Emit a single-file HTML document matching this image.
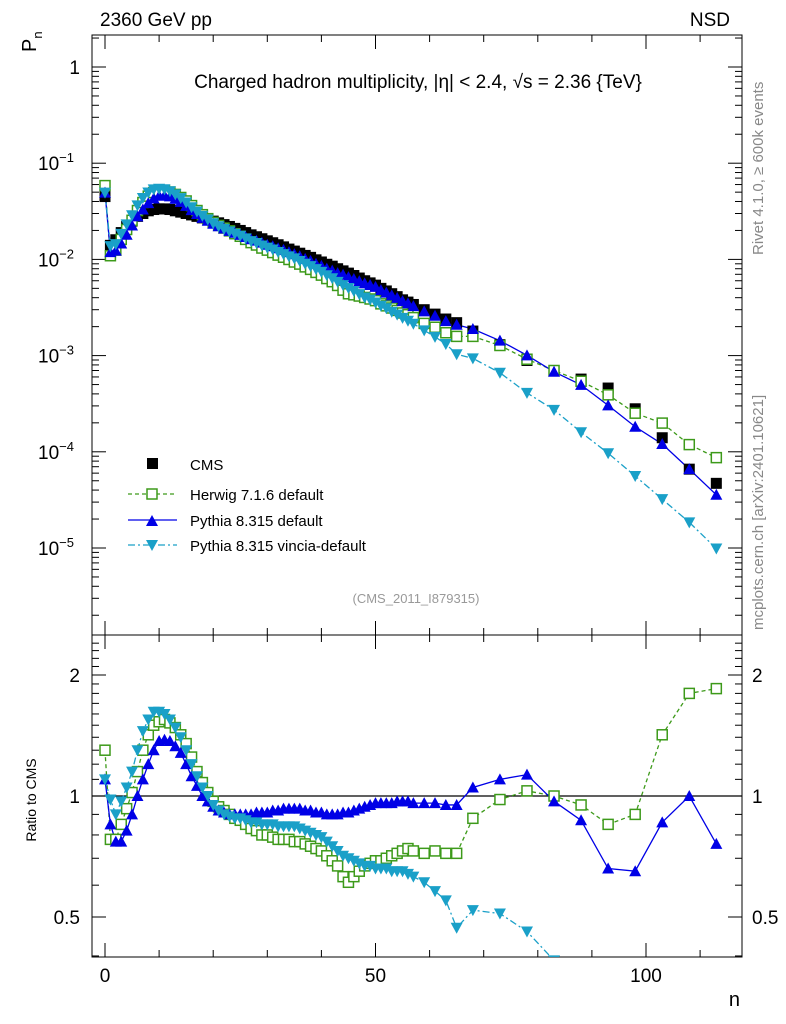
<!DOCTYPE html>
<html><head><meta charset="utf-8"><style>
html,body{margin:0;padding:0;background:#fff;overflow:hidden;width:786px;height:1024px}
svg{display:block;font-family:"Liberation Sans",sans-serif}
</style></head><body>
<svg id="c" width="786" height="1024" viewBox="0 0 786 1024" xmlns="http://www.w3.org/2000/svg">
<text x="100" y="26" font-size="19">2360 GeV pp</text>
<text x="730" y="26" font-size="19" text-anchor="end">NSD</text>
<text x="418" y="88" font-size="19" text-anchor="middle">Charged hadron multiplicity, |η| &lt; 2.4, √s = 2.36 {TeV}</text>
<text transform="translate(36,52) rotate(-90)" font-size="20">P<tspan font-size="13" dy="6">n</tspan></text>
<text transform="translate(36,800) rotate(-90)" font-size="14" text-anchor="middle">Ratio to CMS</text>
<text x="740" y="1006" font-size="20" text-anchor="end">n</text>
<text transform="translate(763,255) rotate(-90)" font-size="15" fill="#888">Rivet 4.1.0, ≥ 600k events</text>
<text transform="translate(763,630) rotate(-90)" font-size="15" fill="#888">mcplots.cern.ch [arXiv:2401.10621]</text>
<text x="416" y="603" font-size="13" fill="#999" text-anchor="middle">(CMS_2011_I879315)</text>
<g id="axes"></g><g id="marks"></g>
<g>
<rect x="147" y="458" width="11" height="11" fill="#000"/>
<text x="190" y="470" font-size="15">CMS</text>
<line x1="128" y1="494" x2="177" y2="494" stroke="#3d9a1a" stroke-dasharray="4,3" stroke-width="1.3"/>
<rect x="147" y="489" width="10" height="10" fill="#fff" stroke="#3d9a1a" stroke-width="1.5"/>
<text x="190" y="500" font-size="15">Herwig 7.1.6 default</text>
<line x1="128" y1="520" x2="177" y2="520" stroke="#0000e6" stroke-width="1.3"/>
<polygon points="146,526 158,526 152,515" fill="#0000e6"/>
<text x="190" y="526" font-size="15">Pythia 8.315 default</text>
<line x1="128" y1="545" x2="177" y2="545" stroke="#1aa0c8" stroke-dasharray="7,3,2,3" stroke-width="1.3"/>
<polygon points="146,540 158,540 152,551" fill="#1aa0c8"/>
<text x="190" y="551" font-size="15">Pythia 8.315 vincia-default</text>
</g>
</svg>
<script>
const ns=[0,1,2,3,4,5,6,7,8,9,10,11,12,13,14,15,16,17,18,19,20,21,22,23,24,25,26,27,28,29,30,31,32,33,34,35,36,37,38,39,40,41,42,43,44,45,46,47,48,49,50,51,52,53,54,55,56,57,59,61,63,65,68,73,78,83,88,93,98,103,108,113];
const cms=[0.045,0.014,0.016,0.019,0.022,0.025,0.028,0.030,0.032,0.033,0.0335,0.0335,0.033,0.032,0.031,0.030,0.029,0.028,0.027,0.026,0.025,0.024,0.023,0.022,0.021,0.020,0.019,0.018,0.0172,0.0164,0.0156,0.0149,0.0142,0.0135,0.0128,0.0122,0.0116,0.011,0.0105,0.0099,0.0094,0.0089,0.0085,0.008,0.0076,0.0072,0.0068,0.0064,0.006,0.0057,0.0054,0.005,0.0047,0.0044,0.0041,0.0038,0.0036,0.0034,0.003,0.0027,0.0024,0.0022,0.0018,0.0013,0.00089,0.0007,0.00057,0.00046,0.00028,0.00014,0.000066,0.000047];
const herwigRatio=[1.30,0.78,0.78,0.85,0.93,1.02,1.15,1.30,1.42,1.50,1.53,1.55,1.52,1.48,1.42,1.35,1.25,1.15,1.08,1.02,0.97,0.94,0.92,0.90,0.88,0.87,0.85,0.83,0.82,0.80,0.80,0.79,0.78,0.78,0.78,0.77,0.77,0.76,0.75,0.74,0.73,0.71,0.69,0.67,0.63,0.61,0.63,0.65,0.67,0.68,0.69,0.69,0.70,0.71,0.72,0.73,0.74,0.73,0.72,0.73,0.72,0.72,0.88,0.98,1.03,1.00,0.95,0.85,0.90,1.42,1.80,1.85];
const pythiaRatio=[1.10,0.85,0.77,0.77,0.82,0.90,1.00,1.10,1.20,1.30,1.37,1.38,1.37,1.33,1.28,1.20,1.12,1.06,1.00,0.97,0.94,0.92,0.91,0.90,0.90,0.90,0.90,0.90,0.91,0.91,0.91,0.92,0.92,0.93,0.93,0.93,0.93,0.92,0.92,0.91,0.91,0.90,0.90,0.90,0.91,0.91,0.92,0.93,0.94,0.95,0.96,0.96,0.96,0.96,0.97,0.97,0.97,0.96,0.96,0.96,0.95,0.95,1.05,1.10,1.13,0.97,0.87,0.66,0.65,0.86,1.00,0.76];
const vinciaRatio=[1.10,0.98,0.90,0.97,1.05,1.15,1.30,1.45,1.55,1.62,1.62,1.60,1.55,1.48,1.40,1.30,1.20,1.12,1.05,1.00,0.95,0.92,0.90,0.89,0.88,0.88,0.87,0.86,0.86,0.85,0.85,0.85,0.84,0.84,0.84,0.84,0.83,0.82,0.81,0.80,0.79,0.77,0.75,0.73,0.71,0.70,0.69,0.68,0.67,0.67,0.66,0.66,0.66,0.65,0.65,0.65,0.64,0.63,0.61,0.58,0.55,0.47,0.52,0.51,0.46,0.39,0.28,0.21,0.20,0.23,0.28,0.21];
const yTickLabels=["1","10","10","10","10","10"];
const xTicks=[0,50,100];
const rTicks=[0.5,1,2];

const SVGNS="http://www.w3.org/2000/svg";
const X0=92,X1=742,T0=35,T1=635,R1=957;
const xs=n=>105+n*5.41;
const ys=v=>67-Math.log10(v)*96.2;
const yr=r=>796-Math.log2(r)*121;
const axes=document.getElementById('axes'),marks=document.getElementById('marks');
function mk(tag,attrs,parent){const e=document.createElementNS(SVGNS,tag);for(const k in attrs)e.setAttribute(k,attrs[k]);parent.appendChild(e);return e;}
let f1=mk('rect',{x:X0,y:T0,width:X1-X0,height:T1-T0,fill:'none',stroke:'#000','stroke-width':1},axes);


let f2=mk('rect',{x:X0,y:T1,width:X1-X0,height:R1-T1,fill:'none',stroke:'#000','stroke-width':1},axes);


for(let d=0;d>=-6;d--){for(let m=1;m<10;m++){const v=m*Math.pow(10,d);const y=ys(v);if(y<T0||y>T1)continue;const L=m===1?14:7;
mk('line',{x1:X0,y1:y,x2:X0+L,y2:y,stroke:'#000'},axes);mk('line',{x1:X1,y1:y,x2:X1-L,y2:y,stroke:'#000'},axes);}}
for(let i=0;i<6;i++){const y=ys(Math.pow(10,-i));const t=mk('text',{x:i===0?80:38,y:y+7,'font-size':19,'text-anchor':i===0?'end':'start'},axes);
t.textContent=yTickLabels[i];


if(i>0){const s=mk('tspan',{'font-size':13,dy:-8},t);s.textContent='−'+i;}}
for(let r=0.4;r<=2.5;r+=0.1){const y=yr(r);if(y<T1||y>R1)continue;const maj=rTicks.some(t=>Math.abs(t-r)<1e-6);const L=maj?14:7;
mk('line',{x1:X0,y1:y,x2:X0+L,y2:y,stroke:'#000'},axes);mk('line',{x1:X1,y1:y,x2:X1-L,y2:y,stroke:'#000'},axes);}
rTicks.forEach(r=>{const y=yr(r);for(const [x,a] of [[80,'end'],[752,'start']]){const t=mk('text',{x:x,y:y+7,'font-size':19,'text-anchor':a},axes);t.textContent=String(r);

}});
mk('line',{x1:X0,y1:yr(1),x2:X1,y2:yr(1),stroke:'#000','stroke-width':1.2},axes);
for(let n=0;n<=120;n+=10){const x=xs(n);if(x<X0||x>X1)continue;const L=n%50===0?14:7;
[[T0,1],[T1,-1],[T1,1],[R1,-1]].forEach(([y,s])=>mk('line',{x1:x,y1:y,x2:x,y2:y+s*L,stroke:'#000'},axes));}
xTicks.forEach(n=>{const t=mk('text',{x:xs(n),y:982,'font-size':19,'text-anchor':'middle'},axes);t.textContent=String(n);

});
const defs=mk('defs',{},document.getElementById('c'));
const cp=mk('clipPath',{id:'rc'},defs);mk('rect',{x:X0,y:T1,width:X1-X0,height:R1-T1},cp);
const rg=mk('g',{'clip-path':'url(#rc)'},marks);
function marker(kind,x,y,col,par){
 if(kind==='sq')return mk('rect',{x:x-5.5,y:y-5.5,width:11,height:11,fill:'#000'},par);
 if(kind==='osq')return mk('rect',{x:x-5,y:y-5,width:10,height:10,fill:'#fff',stroke:col,'stroke-width':1.5},par);
 if(kind==='up')return mk('polygon',{points:`${x-6},${y+5} ${x+6},${y+5} ${x},${y-6}`,fill:col},par);
 return mk('polygon',{points:`${x-6},${y-5} ${x+6},${y-5} ${x},${y+6}`,fill:col},par);}
const series=[
 {name:'herwig',r:herwigRatio,col:'#3d9a1a',kind:'osq',dash:'4,3'},
 {name:'pythia',r:pythiaRatio,col:'#0000e6',kind:'up',dash:''},
 {name:'vincia',r:vinciaRatio,col:'#1aa0c8',kind:'dn',dash:'7,3,2,3'}];
series.forEach(s=>{
 const pm=ns.map((n,i)=>[xs(n),ys(cms[i]*s.r[i])]);
 const pr=ns.map((n,i)=>[xs(n),yr(s.r[i])]);
 const l1=mk('polyline',{points:pm.map(p=>p.join(',')).join(' '),fill:'none',stroke:s.col,'stroke-width':1.3,'stroke-dasharray':s.dash},marks);
 
 
 const l2=mk('polyline',{points:pr.map(p=>p.join(',')).join(' '),fill:'none',stroke:s.col,'stroke-width':1.3,'stroke-dasharray':s.dash},rg);
 
 
 s.pm=pm;s.pr=pr;});
ns.forEach((n,i)=>{const m=marker('sq',xs(n),ys(cms[i]),'#000',marks);
 
 });
series.forEach(s=>{
 s.pm.forEach(p=>{const m=marker(s.kind,p[0],p[1],s.col,marks);
  
  });
 s.pr.forEach(p=>{const m=marker(s.kind,p[0],p[1],s.col,rg);
  
  });});
</script>
</body></html>
